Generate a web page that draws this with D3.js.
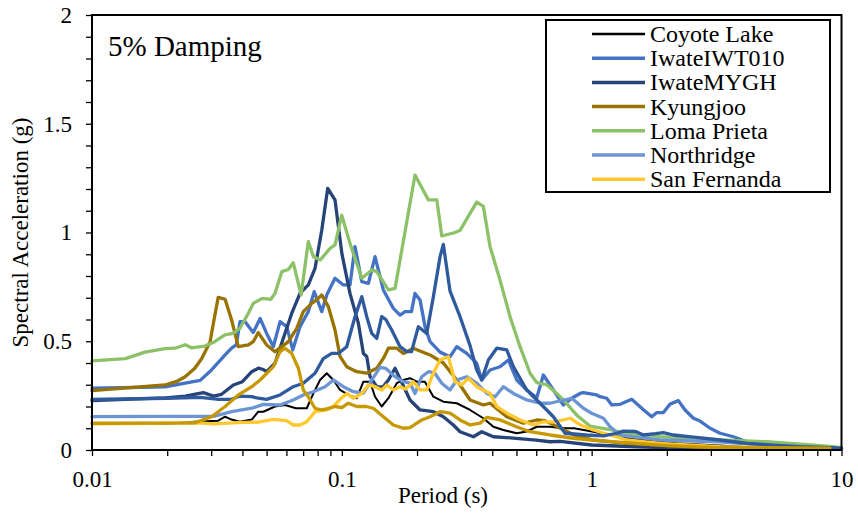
<!DOCTYPE html>
<html>
<head>
<meta charset="utf-8">
<script src="https://cdn.jsdelivr.net/npm/d3@7"></script>
<style>
  html, body { margin: 0; padding: 0; background: #fff; }
  svg { display: block; }
</style>
</head>
<body>
<svg id="chart" width="858" height="515"></svg>
<script>
// ---- Data: [period (s), spectral acceleration (g)] ----
const coyoteLake = [[0.01,0.12],[0.0196,0.12],[0.0258,0.13],[0.032,0.135],[0.0341,0.153],[0.0362,0.14],[0.0391,0.13],[0.0436,0.14],[0.0463,0.176],[0.0485,0.176],[0.054,0.2],[0.0592,0.207],[0.0655,0.192],[0.0724,0.192],[0.0769,0.26],[0.0818,0.322],[0.087,0.353],[0.0925,0.322],[0.0984,0.276],[0.1062,0.253],[0.1147,0.238],[0.122,0.314],[0.1297,0.314],[0.1358,0.245],[0.1444,0.2],[0.1536,0.238],[0.1659,0.307],[0.1763,0.322],[0.1875,0.33],[0.1994,0.314],[0.215,0.314],[0.2325,0.245],[0.2549,0.222],[0.2884,0.215],[0.326,0.184],[0.3686,0.146],[0.4041,0.107],[0.4431,0.092],[0.5013,0.077],[0.55,0.085],[0.6028,0.107],[0.68,0.107],[0.77,0.1],[0.85,0.1],[1.016,0.084],[1.185,0.069],[1.382,0.054],[1.6,0.046],[2.19,0.031],[4,0.015],[10,0.003]];

const iwateIWT010 = [[0.01,0.284],[0.0196,0.29],[0.0236,0.307],[0.0271,0.32],[0.0301,0.368],[0.0341,0.437],[0.0362,0.468],[0.0378,0.483],[0.0391,0.59],[0.041,0.59],[0.0442,0.54],[0.0471,0.605],[0.05,0.536],[0.0532,0.475],[0.0566,0.59],[0.0602,0.567],[0.0636,0.46],[0.068,0.567],[0.0734,0.636],[0.0775,0.728],[0.0831,0.636],[0.087,0.713],[0.0939,0.79],[0.1014,0.759],[0.1078,0.759],[0.1129,0.935],[0.1202,0.774],[0.1277,0.766],[0.1358,0.889],[0.1466,0.736],[0.1608,0.651],[0.171,0.62],[0.1791,0.636],[0.19,0.636],[0.1963,0.72],[0.2056,0.69],[0.2153,0.567],[0.2255,0.498],[0.2473,0.45],[0.2711,0.429],[0.2884,0.475],[0.3162,0.444],[0.3467,0.399],[0.3631,0.322],[0.392,0.368],[0.4298,0.383],[0.464,0.414],[0.5013,0.322],[0.5498,0.276],[0.6028,0.24],[0.6407,0.345],[0.7026,0.276],[0.7705,0.207],[0.8324,0.238],[0.8987,0.26],[0.9265,0.264],[1.048,0.253],[1.08,0.245],[1.149,0.238],[1.204,0.207],[1.3,0.21],[1.447,0.233],[1.611,0.185],[1.74,0.153],[1.822,0.172],[1.936,0.172],[2.06,0.211],[2.224,0.227],[2.365,0.184],[2.554,0.146],[2.716,0.133],[2.979,0.1],[3.266,0.077],[3.693,0.061],[4.177,0.038],[5.02,0.023],[6.83,0.015],[10,0.008]];

const iwateMYGH = [[0.01,0.227],[0.0196,0.24],[0.0236,0.248],[0.0279,0.264],[0.0306,0.248],[0.033,0.256],[0.0368,0.299],[0.04,0.314],[0.0436,0.36],[0.0463,0.376],[0.0485,0.37],[0.05,0.36],[0.054,0.399],[0.058,0.506],[0.063,0.628],[0.068,0.72],[0.0734,0.759],[0.0781,0.835],[0.0831,1.01],[0.0878,1.203],[0.0939,1.15],[0.1,0.904],[0.1078,0.72],[0.1165,0.582],[0.122,0.444],[0.1258,0.43],[0.1297,0.337],[0.138,0.291],[0.146,0.29],[0.1536,0.322],[0.1633,0.376],[0.1875,0.23],[0.2056,0.184],[0.2325,0.176],[0.2549,0.153],[0.2795,0.115],[0.2973,0.084],[0.3361,0.061],[0.3631,0.084],[0.4041,0.061],[0.4859,0.055],[0.6,0.045],[0.6815,0.038],[0.7474,0.04],[1.0,0.023],[1.5,0.015],[2.5,0.008],[10,0.003]];

const kyungjoo = [[0.01,0.273],[0.0196,0.299],[0.022,0.317],[0.0236,0.337],[0.0258,0.376],[0.0275,0.421],[0.0297,0.498],[0.0306,0.582],[0.032,0.702],[0.0341,0.693],[0.0362,0.598],[0.0385,0.475],[0.0423,0.483],[0.0442,0.498],[0.0463,0.54],[0.05,0.483],[0.054,0.452],[0.0575,0.475],[0.0611,0.498],[0.066,0.559],[0.0701,0.636],[0.0758,0.674],[0.0805,0.697],[0.0831,0.713],[0.0883,0.659],[0.0939,0.552],[0.0984,0.429],[0.1046,0.383],[0.1147,0.36],[0.1258,0.353],[0.138,0.376],[0.1466,0.421],[0.1536,0.468],[0.1659,0.468],[0.1763,0.444],[0.1933,0.468],[0.2089,0.452],[0.2255,0.437],[0.2549,0.4],[0.2884,0.322],[0.326,0.23],[0.3686,0.207],[0.392,0.215],[0.4572,0.153],[0.5328,0.123],[0.6028,0.138],[0.65,0.135],[0.75,0.1],[0.85,0.069],[1.016,0.046],[1.38,0.03],[2,0.02],[3,0.01],[10,0.003]];

const lomaPrieta = [[0.01,0.41],[0.0136,0.42],[0.0163,0.45],[0.0196,0.466],[0.0215,0.468],[0.0236,0.484],[0.025,0.47],[0.0283,0.478],[0.031,0.498],[0.034,0.529],[0.0367,0.536],[0.0391,0.56],[0.0423,0.63],[0.0442,0.674],[0.048,0.697],[0.052,0.693],[0.054,0.72],[0.0575,0.82],[0.0611,0.83],[0.0639,0.861],[0.0687,0.713],[0.0734,0.958],[0.077,0.889],[0.082,0.874],[0.0897,0.927],[0.0939,0.943],[0.0999,1.08],[0.1078,0.95],[0.1202,0.79],[0.1318,0.828],[0.138,0.82],[0.1536,0.736],[0.1633,0.743],[0.1963,1.264],[0.222,1.15],[0.24,1.15],[0.2512,0.984],[0.2839,1.0],[0.2973,1.01],[0.326,1.088],[0.3467,1.14],[0.3686,1.12],[0.392,0.935],[0.43,0.78],[0.4713,0.613],[0.5168,0.475],[0.5667,0.353],[0.6028,0.31],[0.661,0.3],[0.725,0.26],[0.7827,0.222],[0.8718,0.16],[0.985,0.11],[1.2,0.092],[1.38,0.077],[1.88,0.061],[2.7,0.055],[3.27,0.046],[5.02,0.038],[9.3,0.015],[10,0.01]];

const northridge = [[0.01,0.153],[0.0196,0.155],[0.0306,0.155],[0.0362,0.176],[0.0436,0.192],[0.0485,0.21],[0.0566,0.207],[0.0639,0.23],[0.0701,0.253],[0.0769,0.268],[0.0857,0.291],[0.0925,0.322],[0.1014,0.291],[0.1112,0.268],[0.122,0.261],[0.1318,0.322],[0.1422,0.38],[0.15,0.375],[0.1633,0.337],[0.1763,0.314],[0.1875,0.307],[0.1963,0.26],[0.2089,0.337],[0.222,0.36],[0.235,0.355],[0.2512,0.307],[0.2711,0.276],[0.2884,0.322],[0.3162,0.337],[0.3467,0.307],[0.3803,0.26],[0.4105,0.245],[0.4431,0.291],[0.4859,0.26],[0.5498,0.23],[0.6214,0.215],[0.68,0.215],[0.8324,0.238],[0.9265,0.192],[1.0,0.169],[1.114,0.146],[1.185,0.107],[1.3,0.069],[1.38,0.064],[1.88,0.046],[3.266,0.038],[5,0.02],[10,0.005]];

const sanFernanda = [[0.01,0.12],[0.0271,0.125],[0.0306,0.12],[0.0385,0.126],[0.0463,0.128],[0.0532,0.141],[0.06,0.135],[0.0639,0.115],[0.068,0.115],[0.0724,0.13],[0.0781,0.176],[0.087,0.184],[0.0925,0.2],[0.0984,0.233],[0.1046,0.26],[0.1112,0.238],[0.1202,0.26],[0.1277,0.299],[0.1358,0.291],[0.1444,0.276],[0.1513,0.299],[0.1608,0.276],[0.171,0.291],[0.18,0.28],[0.1933,0.314],[0.2056,0.276],[0.2187,0.276],[0.2325,0.353],[0.2473,0.414],[0.2669,0.429],[0.2839,0.314],[0.302,0.299],[0.3209,0.33],[0.3467,0.291],[0.392,0.26],[0.417,0.2],[0.4572,0.169],[0.5168,0.138],[0.5842,0.115],[0.6407,0.13],[0.7,0.128],[0.77,0.138],[0.82,0.146],[0.9,0.115],[1.016,0.092],[1.185,0.069],[1.382,0.046],[1.878,0.03],[3.266,0.015],[9,0.008]];

// two additional records shown in the plot but not in the legend
const extraBlue = [[0.01,0.233],[0.02,0.238],[0.0271,0.242],[0.0322,0.233],[0.0362,0.233],[0.0391,0.248],[0.0436,0.245],[0.0463,0.238],[0.05,0.233],[0.0566,0.253],[0.0639,0.291],[0.0701,0.307],[0.0781,0.353],[0.0843,0.42],[0.0911,0.444],[0.0968,0.444],[0.1046,0.475],[0.1129,0.613],[0.1202,0.705],[0.1258,0.613],[0.1318,0.536],[0.138,0.513],[0.1444,0.613],[0.15,0.6],[0.1584,0.552],[0.171,0.475],[0.1819,0.452],[0.19,0.452],[0.2024,0.567],[0.2187,0.536],[0.2325,0.705],[0.2473,0.889],[0.2549,0.945],[0.2711,0.73],[0.2973,0.613],[0.326,0.48],[0.3467,0.368],[0.3631,0.322],[0.3859,0.414],[0.417,0.468],[0.4572,0.46],[0.4859,0.383],[0.5498,0.276],[0.6214,0.215],[0.7026,0.153],[0.7827,0.077],[0.95,0.069],[1.114,0.065],[1.261,0.077],[1.34,0.087],[1.5,0.085],[1.611,0.069],[1.8,0.075],[1.936,0.08],[2.124,0.069],[2.5,0.06],[3.266,0.046],[4.2,0.03],[6.83,0.015],[10,0.008]];

const extraGold = [[0.01,0.123],[0.0258,0.125],[0.0301,0.153],[0.0341,0.2],[0.0385,0.253],[0.0436,0.291],[0.0471,0.322],[0.0532,0.383],[0.0566,0.452],[0.0592,0.468],[0.063,0.444],[0.067,0.376],[0.0701,0.276],[0.0734,0.245],[0.0781,0.192],[0.0831,0.184],[0.0878,0.19],[0.0939,0.2],[0.1,0.195],[0.1062,0.215],[0.1147,0.2],[0.125,0.2],[0.1337,0.192],[0.1466,0.153],[0.1608,0.115],[0.1763,0.1],[0.1875,0.103],[0.2089,0.138],[0.2255,0.153],[0.2473,0.176],[0.2711,0.169],[0.2973,0.138],[0.326,0.115],[0.3574,0.123],[0.38,0.15],[0.43,0.138],[0.5,0.107],[0.5667,0.084],[0.6815,0.069],[0.8448,0.054],[1.0,0.045],[1.5,0.03],[2,0.02],[3,0.012],[9,0.008]];

const seriesNames = ["Coyote Lake","IwateIWT010","IwateMYGH","Kyungjoo","Loma Prieta","Northridge","San Fernanda"];
const xMajorTicks = [0.01, 0.1, 1, 10];
const yTicks = [0, 0.5, 1, 1.5, 2];

// ---- Styles ----
const FONT = "Liberation Serif";
const series = [
  { name: "Coyote Lake", data: coyoteLake, color: "#000000", width: 2, legend: true },
  { name: "IwateIWT010", data: iwateIWT010, color: "#4472C4", width: 3.3, legend: true },
  { name: "IwateMYGH", data: iwateMYGH, color: "#264478", width: 3.3, legend: true },
  { name: "Kyungjoo", data: kyungjoo, color: "#997300", width: 3.3, legend: true },
  { name: "Loma Prieta", data: lomaPrieta, color: "#8CC168", width: 3.3, legend: true },
  { name: "Northridge", data: northridge, color: "#6C95D4", width: 3.3, legend: true },
  { name: "San Fernanda", data: sanFernanda, color: "#FFC82E", width: 3.3, legend: true },
  { name: "extraBlue", data: extraBlue, color: "#2F5A9E", width: 3.3, legend: false },
  { name: "extraGold", data: extraGold, color: "#C79800", width: 3.3, legend: false }
];

const svg = d3.select("#chart").attr("font-family", FONT);
const L = 92, R = 841.5, T = 15, B = 450;

const x = d3.scaleLog().domain([0.01, 10]).range([L, R]);
const y = d3.scaleLinear().domain([0, 2]).range([B, T]);

// x ticks: all integer multiples within each decade
const xAll = [];
for (let d = 0.01; d < 10; d *= 10) for (let k = 1; k < 10; k++) xAll.push(+(d * k).toPrecision(3));
xAll.push(10);
const isMajor = v => xMajorTicks.some(m => Math.abs(m - v) < 1e-9);

const xAxis = d3.axisBottom(x).tickValues(xAll).tickSizeOuter(0).tickSize(6)
  .tickFormat(v => isMajor(v) ? String(v) : "");
const gx = svg.append("g").attr("transform", `translate(0,${B})`).call(xAxis)
  .attr("font-family", FONT).attr("font-size", 23);
gx.select(".domain").remove();
gx.selectAll(".tick line").attr("stroke", "#000").attr("stroke-width", 1.3);
gx.selectAll(".tick text").attr("y", 37).attr("dy", null).attr("fill", "#000");

const yAll = d3.range(0, 21).map(i => +(i * 0.1).toFixed(1));
const yAxis = d3.axisLeft(y).tickValues(yAll).tickSize(6).tickSizeOuter(0).tickPadding(14)
  .tickFormat(v => yTicks.some(t => Math.abs(t - v) < 1e-9) ? d3.format("")(v) : "");
const gy = svg.append("g").attr("transform", `translate(${L},0)`).call(yAxis)
  .attr("font-family", FONT).attr("font-size", 23);
gy.select(".domain").remove();
gy.selectAll(".tick line").attr("stroke", "#000").attr("stroke-width", 1.3);
gy.selectAll(".tick text").attr("fill", "#000");

// series lines
const line = d3.line().x(d => x(d[0])).y(d => y(d[1]));
const plot = svg.append("g");
series.forEach(s => {
  plot.append("path").datum(s.data)
    .attr("d", line)
    .attr("fill", "none")
    .attr("stroke", s.color)
    .attr("stroke-width", s.width)
    .attr("stroke-linejoin", "round")
    .attr("stroke-linecap", "round");
});

// frame
svg.append("rect").attr("x", L).attr("y", T).attr("width", R - L).attr("height", B - T)
  .attr("fill", "none").attr("stroke", "#000").attr("stroke-width", 2);

// annotation
svg.append("text").attr("x", 108).attr("y", 56).attr("font-size", 29).text("5% Damping");

// axis titles
svg.append("text").attr("x", 443).attr("y", 503).attr("text-anchor", "middle")
  .attr("font-size", 23).text("Period (s)");
svg.append("text").attr("transform", `translate(28,${(T + B) / 2}) rotate(-90)`)
  .attr("text-anchor", "middle").attr("font-size", 23).text("Spectral Acceleration (g)");

// legend
const lg = svg.append("g");
lg.append("rect").attr("x", 546).attr("y", 20).attr("width", 284).attr("height", 172)
  .attr("fill", "#fff").attr("stroke", "#000").attr("stroke-width", 2);
series.filter(s => s.legend).forEach((s, i) => {
  const cy = 34 + i * 24.2;
  lg.append("line").attr("x1", 592).attr("x2", 645).attr("y1", cy).attr("y2", cy)
    .attr("stroke", s.color).attr("stroke-width", s.width === 2 ? 2.5 : 3.5);
  lg.append("text").attr("x", 650).attr("y", cy).attr("dy", "0.33em")
    .attr("font-size", 24).text(seriesNames[i]);
});

svg.selectAll("text").attr("font-family", FONT).style("font-family", FONT).attr("fill", "#000");
</script>
</body>
</html>
